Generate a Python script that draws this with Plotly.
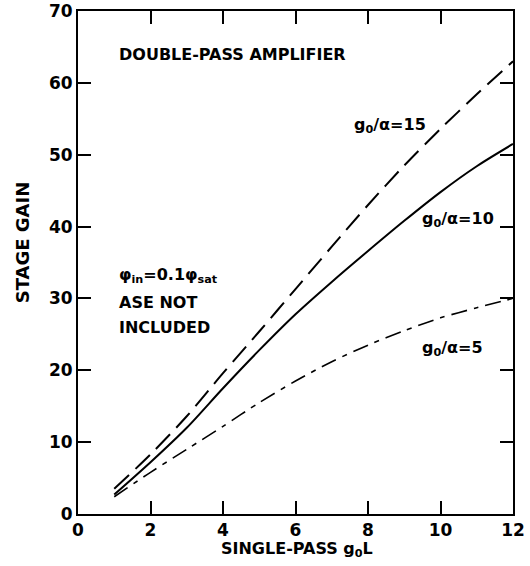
import plotly.graph_objects as go

# Data
x_vals = [1, 2, 3, 4, 5, 6, 7, 8, 9, 10, 11, 12]
gain_15 = [3.5, 8.3, 13.6, 19.6, 25.4, 31.3, 37.2, 43.0, 48.5, 53.6, 58.4, 63.0]
gain_10 = [2.7, 7.2, 12.0, 17.5, 22.8, 27.8, 32.3, 36.6, 40.8, 44.8, 48.4, 51.5]
gain_5 = [2.4, 5.8, 9.0, 12.2, 15.5, 18.5, 21.2, 23.5, 25.5, 27.3, 28.7, 30.0]

x_ticks = [0, 2, 4, 6, 8, 10, 12]
y_ticks = [0, 10, 20, 30, 40, 50, 60, 70]

FONT = "DejaVu Sans"

fig = go.Figure()
fig.add_trace(go.Scatter(x=x_vals, y=gain_15, mode="lines",
                         line=dict(color="black", width=2, dash="20px,9px", shape="spline", smoothing=0.8),
                         showlegend=False))
fig.add_trace(go.Scatter(x=x_vals, y=gain_10, mode="lines",
                         line=dict(color="black", width=2, shape="spline", smoothing=0.8),
                         showlegend=False))
fig.add_trace(go.Scatter(x=x_vals, y=gain_5, mode="lines",
                         line=dict(color="black", width=1.6, dash="16px,7px,5px,7px", shape="spline", smoothing=0.8),
                         showlegend=False))

ann_font = dict(family=FONT, size=16, color="black", weight="bold")
annotations = [
    dict(x=1.08, y=63.9, text="DOUBLE-PASS AMPLIFIER", xanchor="left"),
    dict(x=8.6, y=54.0, text="g<sub>0</sub>/α=15", xanchor="center"),
    dict(x=10.48, y=41.0, text="g<sub>0</sub>/α=10", xanchor="center"),
    dict(x=10.34, y=23.1, text="g<sub>0</sub>/α=5", xanchor="center"),
    dict(x=1.08, y=33.2, text="φ<sub>in</sub>=0.1φ<sub>sat</sub>", xanchor="left"),
    dict(x=1.08, y=29.5, text="ASE NOT", xanchor="left"),
    dict(x=1.08, y=25.9, text="INCLUDED", xanchor="left"),
]
for a in annotations:
    fig.add_annotation(xref="x", yref="y", showarrow=False, yanchor="middle", font=ann_font, **a)

fig.add_annotation(xref="paper", yref="paper", x=-0.129, y=0.54, text="STAGE GAIN", textangle=-90,
                   showarrow=False, xanchor="center", yanchor="middle",
                   font=dict(family=FONT, size=18, color="black", weight="bold"))
fig.add_annotation(xref="paper", yref="paper", x=0.504, y=-0.07, text="SINGLE-PASS g<sub>0</sub>L",
                   showarrow=False, xanchor="center", yanchor="middle",
                   font=dict(family=FONT, size=16, color="black", weight="bold"))

axis_common = dict(showline=True, linecolor="black", linewidth=2, mirror="ticks", ticks="inside",
                   ticklen=13, tickwidth=1.5, tickcolor="black", showgrid=False, zeroline=False,
                   automargin=False, ticklabeloverflow="allow",
                   tickfont=dict(family=FONT, size=17, color="black", weight="bold"))
fig.update_xaxes(range=[0, 12], tickvals=x_ticks, **axis_common)
fig.update_yaxes(range=[0, 70], tickvals=y_ticks, **axis_common)

fig.update_layout(width=530, height=566, margin=dict(l=78, r=17, t=11, b=52, autoexpand=False),
                  plot_bgcolor="white", paper_bgcolor="white")

fig.write_html("out.html", config={"displayModeBar": False},
               post_script="document.body.style.margin='0';")
